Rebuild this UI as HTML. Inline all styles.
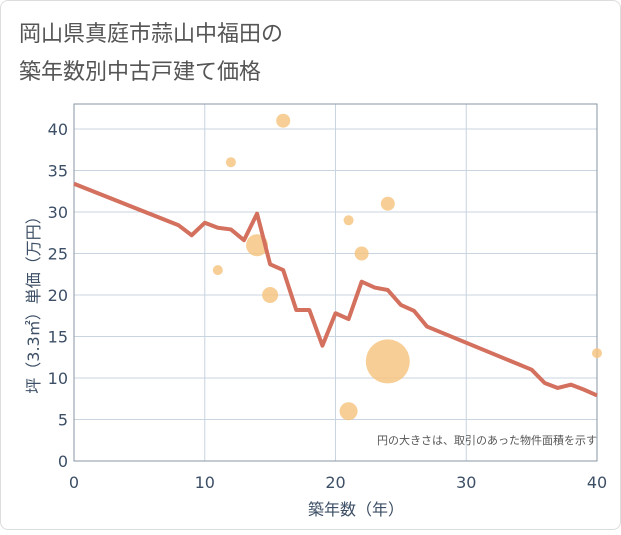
<!DOCTYPE html>
<html><head><meta charset="utf-8"><style>
body{margin:0;background:#fff;font-family:"DejaVu Sans","Noto Sans CJK JP",sans-serif;}
#card{position:absolute;left:0;top:0;width:619px;height:528px;border:1px solid #ddd;border-radius:8px;background:#fff;}
</style></head><body>
<div id="card">
<svg id="chart" width="621" height="530" style="font-family:'DejaVu Sans','Noto Sans CJK JP',sans-serif">
<text x="18" y="40" font-size="22" fill="#555">岡山県真庭市蒜山中福田の</text>
<text x="18" y="78" font-size="22" fill="#555">築年数別中古戸建て価格</text>
<g id="grid"></g><g id="axes"></g><g id="bubbles"></g><g id="line"></g>
<text x="596" y="443" font-size="11" fill="#555" text-anchor="end">円の大きさは、取引のあった物件面積を示す</text>
<text x="355" y="514" font-size="16" fill="#3d4f66" text-anchor="middle">築年数（年）</text>
<text transform="translate(38,300) rotate(-90)" font-size="16" fill="#3d4f66" text-anchor="middle">坪（3.3㎡）単価（万円）</text>
</svg></div>
<script>
const xTicks=[0,10,20,30,40];
const yTicks=[0,5,10,15,20,25,30,35,40];
const lineYears=[0,8,9,10,11,12,13,14,15,16,17,18,19,20,21,22,23,24,25,26,27,35,36,37,38,39,40];
const linePrices=[33.4,28.4,27.2,28.7,28.1,27.9,26.6,29.8,23.7,23,18.2,18.2,13.9,17.8,17.1,21.6,20.9,20.6,18.8,18.1,16.2,11,9.4,8.8,9.2,8.6,7.9];
const bubbleYears=[16,12,21,24,22,14,11,15,24,21,40];
const bubblePrices=[41,36,29,31,25,26,23,20,12,6,13];
const bubbleSizes=[7,5,5,7,7,11,5,8,22,9,5];
const NS="http://www.w3.org/2000/svg";
const X0=73,X1=596,Y0=460,Y1=128,TOP=103;
const sx=v=>X0+(v-0)/40*(X1-X0);
const sy=v=>Y0-(v/40)*(Y0-Y1);
function mk(t,a,p){const e=document.createElementNS(NS,t);for(const k in a)e.setAttribute(k,a[k]);p.appendChild(e);return e;}
const grid=document.getElementById('grid'),axes=document.getElementById('axes');
xTicks.forEach(t=>{const l=mk('line',{x1:sx(t),x2:sx(t),y1:TOP,y2:Y0,stroke:'#c8d4e0'},grid);


const tx=mk('text',{x:sx(t),y:487,'font-size':16,fill:'#3d4f66','text-anchor':'middle'},axes);tx.textContent=t;

});
yTicks.forEach(t=>{const l=mk('line',{x1:X0,x2:X1,y1:sy(t),y2:sy(t),stroke:'#c8d4e0'},grid);


const tx=mk('text',{x:67,y:sy(t)+6,'font-size':16,fill:'#3d4f66','text-anchor':'end'},axes);tx.textContent=t;

});
const fr=mk('rect',{x:X0,y:TOP,width:X1-X0,height:Y0-TOP,fill:'none',stroke:'#8a96a4'},axes);


const bg=document.getElementById('bubbles');
bubbleYears.forEach((y,i)=>{const c=mk('circle',{cx:sx(y),cy:sy(bubblePrices[i]),r:bubbleSizes[i],fill:'#f5c27a','fill-opacity':0.8},bg);

});
const pts=lineYears.map((y,i)=>sx(y)+','+sy(linePrices[i])).join(' ');
const pl=mk('polyline',{points:pts,fill:'none',stroke:'#d4705e','stroke-width':4,'stroke-linejoin':'round'},document.getElementById('line'));


</script></body></html>
